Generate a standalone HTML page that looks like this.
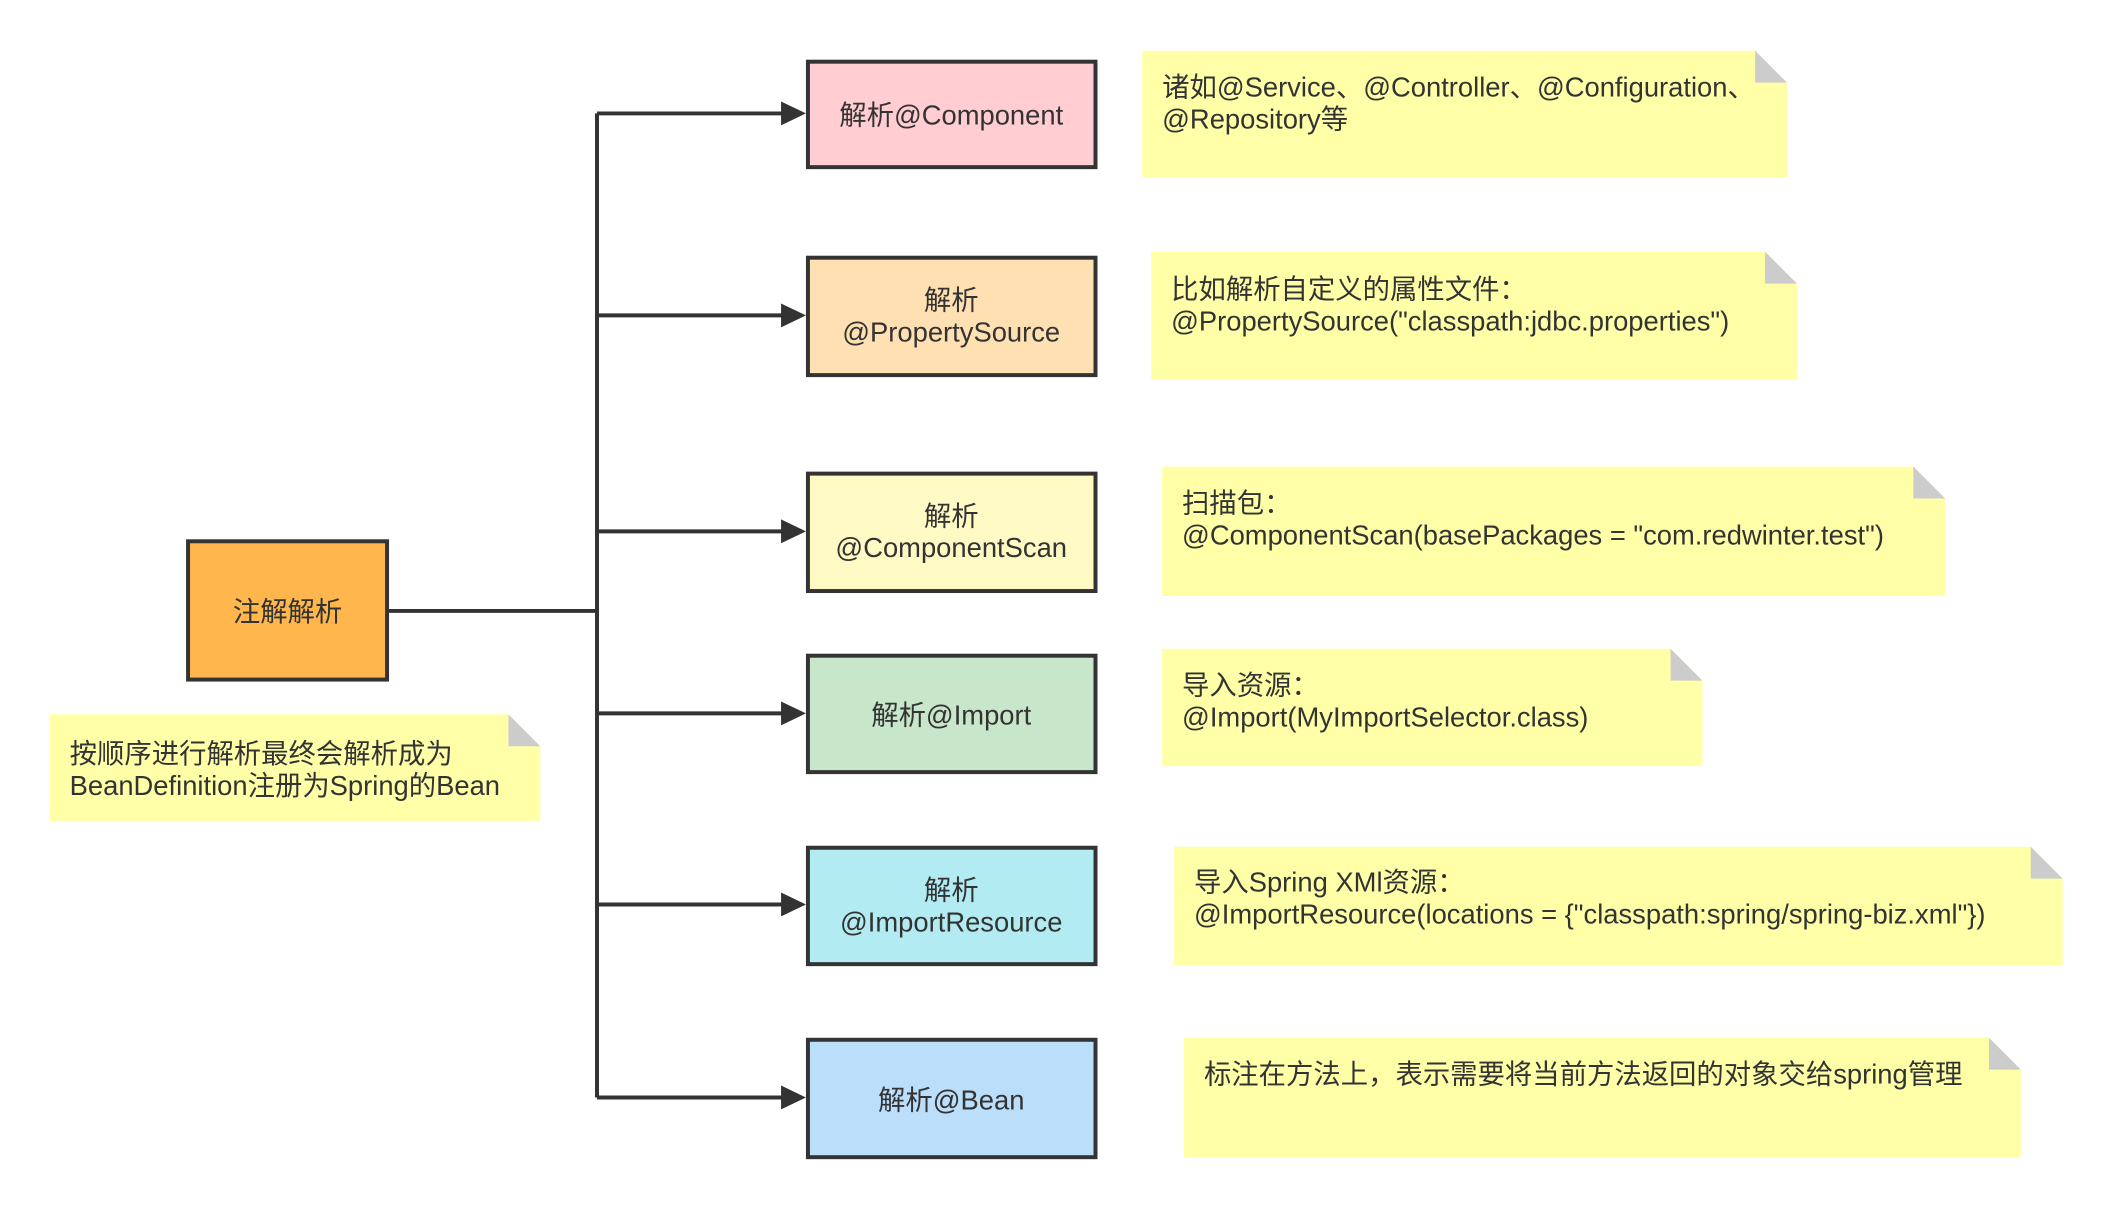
<!DOCTYPE html>
<html><head><meta charset="utf-8"><style>
html,body{margin:0;padding:0;background:#fff;}
svg{display:block;}
text{font-family:"Liberation Sans","Noto Sans CJK SC",sans-serif;fill:#333;font-size:27.5px;}
</style></head><body>
<svg width="2114" height="1207" viewBox="0 0 2114 1207" xmlns="http://www.w3.org/2000/svg">
<rect width="2114" height="1207" fill="#fff"/>
<g transform="scale(0.995)">
<g stroke="#333" stroke-width="4" fill="none">
<line x1="390" y1="614" x2="600" y2="614"/>
<line x1="600" y1="114" x2="600" y2="1103"/>
<line x1="600" y1="114" x2="790" y2="114"/>
<line x1="600" y1="317" x2="790" y2="317"/>
<line x1="600" y1="534" x2="790" y2="534"/>
<line x1="600" y1="717" x2="790" y2="717"/>
<line x1="600" y1="909" x2="790" y2="909"/>
<line x1="600" y1="1103" x2="790" y2="1103"/>
</g>
<g fill="#333">
<polygon points="785,102 810,114 785,126"/>
<polygon points="785,305 810,317 785,329"/>
<polygon points="785,522 810,534 785,546"/>
<polygon points="785,705 810,717 785,729"/>
<polygon points="785,897 810,909 785,921"/>
<polygon points="785,1091 810,1103 785,1115"/>
</g>
<rect x="189" y="544" width="200" height="139" fill="#ffb74d" stroke="#333" stroke-width="4"/>
<text x="289" y="624" text-anchor="middle">注解解析</text>
<g stroke="#333" stroke-width="4">
<rect x="812" y="62" width="289" height="106" fill="#ffcdd2"/>
<rect x="812" y="259" width="289" height="118" fill="#ffe0b2"/>
<rect x="812" y="476" width="289" height="118" fill="#fff9c4"/>
<rect x="812" y="659" width="289" height="117" fill="#c8e6c9"/>
<rect x="812" y="852" width="289" height="117" fill="#b2ebf2"/>
<rect x="812" y="1045" width="289" height="118" fill="#bbdefb"/>
</g>
<g text-anchor="middle">
<text x="956" y="125">解析@Component</text>
<text x="956" y="311">解析</text><text x="956" y="343">@PropertySource</text>
<text x="956" y="528">解析</text><text x="956" y="560">@ComponentScan</text>
<text x="956" y="728">解析@Import</text>
<text x="956" y="904">解析</text><text x="956" y="936">@ImportResource</text>
<text x="956" y="1115">解析@Bean</text>
</g>
<g>
<polygon points="1148,51 1764,51 1796,83 1796,178 1148,178" fill="#ffffa8"/>
<polygon points="1764,51 1796,83 1764,83" fill="#ccc"/>
<polygon points="1157,253 1774,253 1806,285 1806,381 1157,381" fill="#ffffa8"/>
<polygon points="1774,253 1806,285 1774,285" fill="#ccc"/>
<polygon points="1168,469 1923,469 1955,501 1955,599 1168,599" fill="#ffffa8"/>
<polygon points="1923,469 1955,501 1923,501" fill="#ccc"/>
<polygon points="1168,652 1679,652 1711,684 1711,770 1168,770" fill="#ffffa8"/>
<polygon points="1679,652 1711,684 1679,684" fill="#ccc"/>
<polygon points="1180,851 2041,851 2073,883 2073,970 1180,970" fill="#ffffa8"/>
<polygon points="2041,851 2073,883 2041,883" fill="#ccc"/>
<polygon points="1190,1043 1999,1043 2031,1075 2031,1163 1190,1163" fill="#ffffa8"/>
<polygon points="1999,1043 2031,1075 1999,1075" fill="#ccc"/>
<polygon points="50,718 511,718 543,750 543,825 50,825" fill="#ffffa8"/>
<polygon points="511,718 543,750 511,750" fill="#ccc"/>
</g>
<g>
<text x="1168" y="97">诸如@Service、@Controller、@Configuration、</text>
<text x="1168" y="129">@Repository等</text>
<text x="1177" y="300">比如解析自定义的属性文件：</text>
<text x="1177" y="332">@PropertySource("classpath:jdbc.properties")</text>
<text x="1188" y="515">扫描包：</text>
<text x="1188" y="547">@ComponentScan(basePackages = "com.redwinter.test")</text>
<text x="1188" y="698">导入资源：</text>
<text x="1188" y="730">@Import(MyImportSelector.class)</text>
<text x="1200" y="896">导入Spring XMl资源：</text>
<text x="1200" y="928">@ImportResource(locations = {"classpath:spring/spring-biz.xml"})</text>
<text x="1210" y="1089">标注在方法上，表示需要将当前方法返回的对象交给spring管理</text>
<text x="70" y="767">按顺序进行解析最终会解析成为</text>
<text x="70" y="799">BeanDefinition注册为Spring的Bean</text>
</g>
</g>
</svg>
</body></html>
